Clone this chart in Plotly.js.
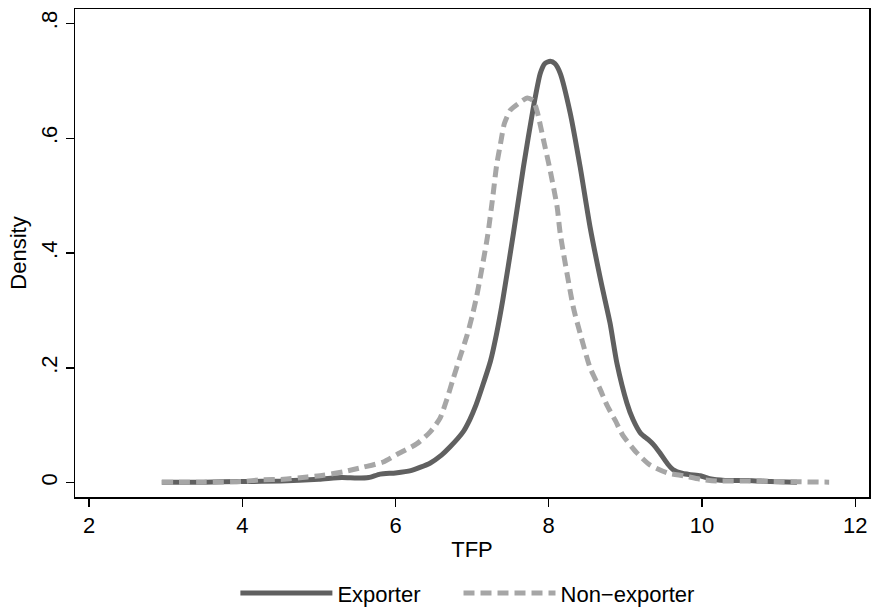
<!DOCTYPE html>
<html>
<head>
<meta charset="utf-8">
<script src="https://cdn.plot.ly/plotly-3.0.1.min.js"></script>
<style>html,body{margin:0;padding:0;background:#fff;}#chart{width:872px;height:613px;}</style>
</head>
<body>
<div id="chart"></div>
<script>
const exporterX = [2.95, 3.5, 4.0, 4.5, 5.0, 5.3, 5.5, 5.65, 5.8, 6.0, 6.2, 6.45, 6.6, 6.71, 6.88, 6.97, 7.05, 7.14, 7.24, 7.32, 7.4, 7.54, 7.67, 7.8, 7.89, 7.95, 8.02, 8.08, 8.15, 8.28, 8.41, 8.54, 8.69, 8.8, 8.89, 9.02, 9.1, 9.2, 9.3, 9.37, 9.45, 9.55, 9.62, 9.75, 9.85, 9.98, 10.1, 10.3, 10.6, 10.9, 11.24];
const exporterY = [0.001, 0.001, 0.002, 0.003, 0.006, 0.009, 0.008, 0.009, 0.015, 0.017, 0.021, 0.034, 0.048, 0.062, 0.088, 0.11, 0.135, 0.17, 0.212, 0.26, 0.318, 0.435, 0.55, 0.654, 0.713, 0.73, 0.734, 0.73, 0.713, 0.644, 0.55, 0.445, 0.345, 0.278, 0.208, 0.139, 0.11, 0.086, 0.075, 0.066, 0.052, 0.033, 0.023, 0.016, 0.014, 0.012, 0.007, 0.004, 0.004, 0.002, 0.001];
const nonExporterX = [2.95, 3.5, 4.0, 4.23, 4.54, 4.85, 5.06, 5.32, 5.58, 5.84, 6.03, 6.28, 6.45, 6.58, 6.67, 6.75, 6.84, 6.93, 7.0, 7.06, 7.2, 7.27, 7.32, 7.37, 7.42, 7.5, 7.6, 7.72, 7.8, 7.85, 7.93, 8.02, 8.11, 8.15, 8.32, 8.41, 8.54, 8.67, 8.76, 8.87, 8.97, 9.15, 9.32, 9.55, 9.76, 9.98, 10.2, 10.6, 11.0, 11.66];
const nonExporterY = [0.001, 0.001, 0.002, 0.005, 0.006, 0.01, 0.013, 0.019, 0.027, 0.036, 0.05, 0.068, 0.088, 0.112, 0.145, 0.18, 0.218, 0.255, 0.29, 0.325, 0.428, 0.498, 0.553, 0.59, 0.625, 0.649, 0.66, 0.67, 0.665, 0.646, 0.598, 0.543, 0.48, 0.434, 0.306, 0.26, 0.2, 0.163, 0.135, 0.108, 0.082, 0.052, 0.031, 0.017, 0.012, 0.006, 0.003, 0.003, 0.002, 0.001];
const xTickVals = [2, 4, 6, 8, 10, 12];
const xTickText = ['2', '4', '6', '8', '10', '12'];
const yTickVals = [0, 0.2, 0.4, 0.6, 0.8];
const yTickText = ['0', '.2', '.4', '.6', '.8'];
const seriesNames = ['Exporter', 'Non\u2212exporter'];

const font = {family: 'Liberation Sans, Arial, sans-serif', size: 22, color: '#000'};

const traces = [
  {x: exporterX, y: exporterY, name: seriesNames[0], mode: 'lines', legend: 'legend',
   line: {color: '#606060', width: 5, shape: 'spline', smoothing: 0.6}},
  {x: nonExporterX, y: nonExporterY, name: seriesNames[1], mode: 'lines', legend: 'legend2',
   line: {color: '#a6a6a6', width: 5, shape: 'spline', smoothing: 0.6, dash: '11px,6px'}}
];

const legendBase = {orientation: 'h', yanchor: 'middle', y: -0.197, xanchor: 'left',
                    font: font, itemwidth: 92, bgcolor: 'rgba(0,0,0,0)', borderwidth: 0};

const layout = {
  width: 872, height: 613,
  margin: {l: 75, r: 3, t: 9, b: 116, autoexpand: false},
  paper_bgcolor: '#fff', plot_bgcolor: '#fff',
  font: font,
  showlegend: true,
  legend: Object.assign({}, legendBase, {x: 0.202}),
  legend2: Object.assign({}, legendBase, {x: 0.483}),
  xaxis: {range: [1.817, 12.18], tickvals: xTickVals, ticktext: xTickText,
          ticks: 'outside', ticklen: 8, tickwidth: 1.3, tickcolor: '#000',
          showline: true, linecolor: '#000', linewidth: 1.5, mirror: true,
          showgrid: false, zeroline: false, tickfont: font,
          title: {text: 'TFP', font: font, standoff: 4}},
  yaxis: {range: [-0.0249, 0.825], tickvals: yTickVals, ticktext: yTickText,
          ticks: 'outside', ticklen: 8, tickwidth: 1.3, tickcolor: '#000', tickangle: -90,
          showline: true, linecolor: '#000', linewidth: 1.5, mirror: true,
          showgrid: false, zeroline: false, tickfont: font,
          title: {text: 'Density', font: font, standoff: 4}}
};

Plotly.newPlot('chart', traces, layout, {displayModeBar: false, staticPlot: true});
</script>
</body>
</html>
